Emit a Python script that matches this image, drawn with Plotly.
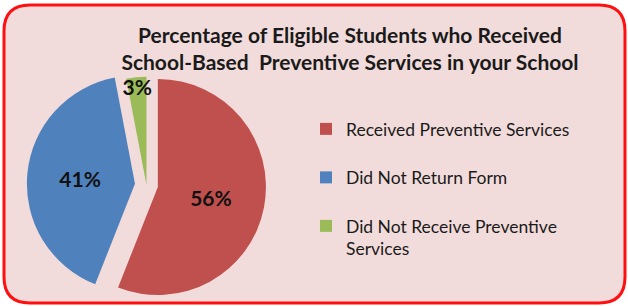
import plotly.graph_objects as go

# ---- data ----
categories = ["Received Preventive Services", "Did Not Return Form", "Did Not Receive Preventive Services"]
legend_names = ["Received Preventive Services<br> ", "Did Not Return Form<br> ", "Did Not Receive Preventive<br>Services"]
values = [56, 41, 3]
colors = ["#C0504D", "#4F81BD", "#9BBB59"]

W, H = 628, 306
FONT = "Lato"

fig = go.Figure()
fig.add_trace(go.Pie(
    labels=legend_names,
    values=values,
    customdata=categories,
    sort=False,
    direction="clockwise",
    rotation=0,
    pull=[0.107, 0.107, 0.0],
    marker=dict(colors=colors, line=dict(width=0)),
    textinfo="percent",
    texttemplate="%{percent:.0%}",
    textposition="inside",
    insidetextorientation="horizontal",
    textfont=dict(family=FONT, size=21, color="#111111", weight="bold"),
    hovertemplate="%{customdata}: %{percent:.0%}<extra></extra>",
    domain=dict(x=[0.0420, 0.4245], y=[0.0050, 0.787]),
))

# rounded border box (paper coordinates)
x0, x1 = 4 / W, 625 / W
y0, y1 = 1 - 303 / H, 1 - 5 / H
rx, ry = 26 / W, 26 / H
path = (f"M{x0+rx},{y1} L{x1-rx},{y1} Q{x1},{y1} {x1},{y1-ry} "
        f"L{x1},{y0+ry} Q{x1},{y0} {x1-rx},{y0} "
        f"L{x0+rx},{y0} Q{x0},{y0} {x0},{y0+ry} "
        f"L{x0},{y1-ry} Q{x0},{y1} {x0+rx},{y1} Z")

fig.update_layout(
    width=W, height=H,
    margin=dict(l=0, r=0, t=0, b=0),
    paper_bgcolor="white",
    font=dict(family=FONT, color="#1a1a1a"),
    uniformtext=dict(mode="show", minsize=12),
    title=dict(
        text="Percentage of Eligible Students who Received<br>School-Based  Preventive Services in your School",
        x=350 / W, xanchor="center",
        y=1 - 43 / H, yanchor="top",
        font=dict(family=FONT, size=21, color="#1a1a1a", weight="bold"),
    ),
    legend=dict(
        x=306 / W, xanchor="left",
        y=1 - 111 / H, yanchor="top",
        valign="top",
        font=dict(family=FONT, size=17.5, color="#1a1a1a"),
        bgcolor="rgba(0,0,0,0)",
        traceorder="normal",
    ),
    shapes=[dict(type="path", path=path, xref="paper", yref="paper",
                 fillcolor="#F2DCDB", line=dict(color="#FF1010", width=3), layer="below")],
)

fig.write_html("out.html", config={"displayModeBar": False},
               post_script="document.body.style.margin='0';document.body.style.overflow='hidden';")
